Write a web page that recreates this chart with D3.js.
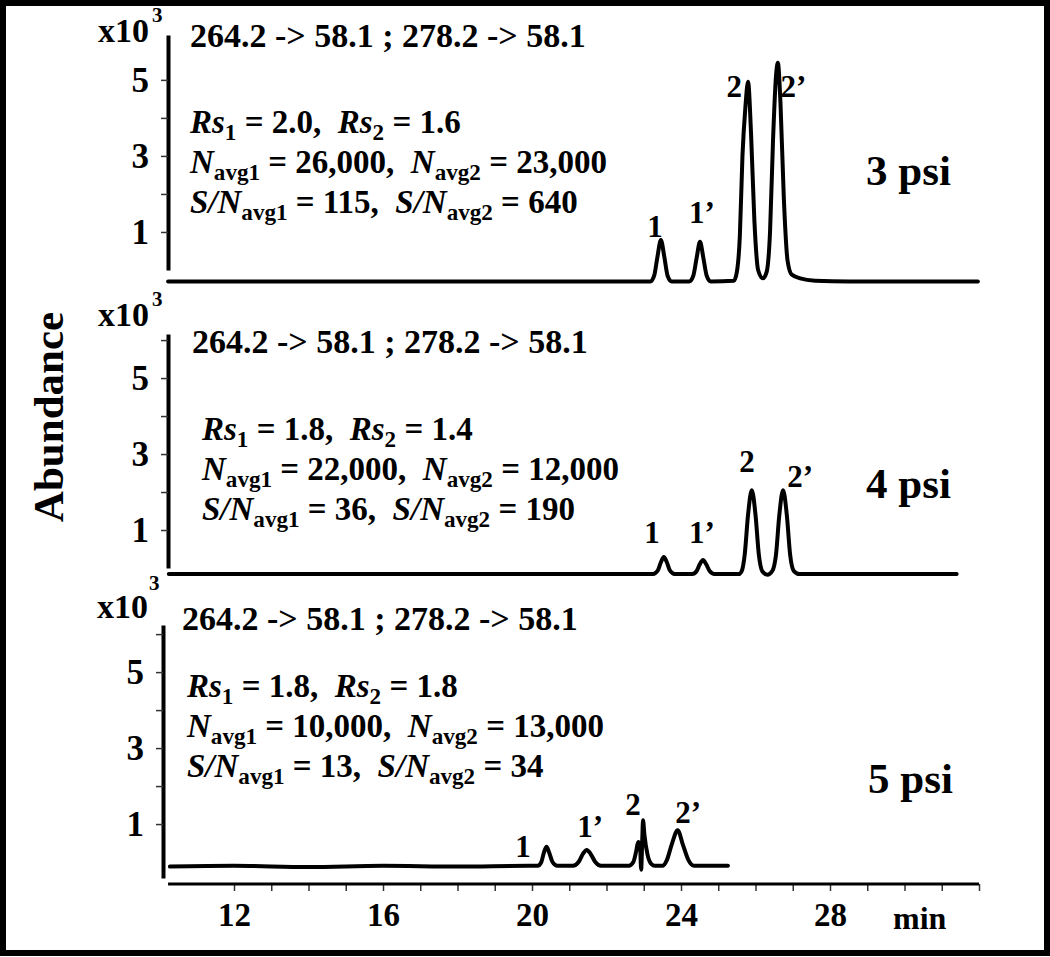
<!DOCTYPE html>
<html><head><meta charset="utf-8">
<script src="https://cdn.jsdelivr.net/npm/d3@7"></script>
<style>
html,body{margin:0;padding:0;background:#fff;}
svg text{font-family:"Liberation Serif","Times New Roman",serif;font-weight:bold;white-space:pre;}
</style></head>
<body>
<svg id="chart" width="1050" height="957"></svg>
<script>
// ---------- DATA ----------
const xTickValues = [12, 16, 20, 24, 28];
const xMinorTicks = [12,13,14,15,16,17,18,19,20,21,22,23,24,25,26,27,28,29,30,31,32];
const yTickValues = [1, 2, 3, 4, 5, 6];
const yTickLabels = [1, 3, 5];
const transitionText = "264.2 -> 58.1 ; 278.2 -> 58.1";
const psiLabels = ["3 psi", "4 psi", "5 psi"];
const rsValues = [["2.0", "1.6"], ["1.8", "1.4"], ["1.8", "1.8"]];
const nValues = [["26,000", "23,000"], ["22,000", "12,000"], ["10,000", "13,000"]];
const snValues = [["115", "640"], ["36", "190"], ["13", "34"]];

// traces: [time (min), abundance (x10^3)]
const trace3psi = [
  [10.23,-0.3],[18,-0.3],[23.18,-0.3],[23.28,-0.15],[23.37,0.36],[23.46,0.79],[23.55,0.36],[23.64,-0.15],[23.75,-0.3],
  [24.22,-0.3],[24.33,-0.15],[24.42,0.32],[24.51,0.74],[24.6,0.32],[24.69,-0.15],[24.8,-0.3],
  [25.42,-0.28],[25.5,-0.05],[25.58,0.9],[25.65,3.0],[25.73,4.3],[25.8,4.95],[25.88,3.6],[25.97,1.3],[26.07,0.0],[26.2,-0.22],
  [26.3,-0.05],[26.39,1.0],[26.47,3.4],[26.55,5.1],[26.6,5.45],[26.67,4.4],[26.76,1.9],[26.86,0.25],[26.97,-0.12],[27.2,-0.22],
  [27.6,-0.28],[28.5,-0.3],[31.97,-0.3]
];
const trace4psi = [
  [10.25,-0.16],[18,-0.16],[23.25,-0.16],[23.38,-0.06],[23.46,0.15],[23.54,0.29],[23.62,0.15],[23.7,-0.06],[23.83,-0.16],
  [24.3,-0.16],[24.42,-0.08],[24.5,0.09],[24.59,0.21],[24.68,0.09],[24.77,-0.08],[24.9,-0.16],
  [25.55,-0.16],[25.63,-0.08],[25.71,0.35],[25.8,1.4],[25.9,2.05],[26.0,1.4],[26.09,0.35],[26.18,-0.08],[26.32,-0.18],
  [26.45,-0.08],[26.55,0.35],[26.64,1.4],[26.74,2.05],[26.84,1.4],[26.93,0.35],[27.03,-0.08],[27.18,-0.16],
  [31.4,-0.16]
];
const trace5psi = [
  [10.28,-0.12],[12,-0.1],[14,-0.13],[16,-0.1],[18,-0.12],[19.9,-0.1],
  [20.15,-0.1],[20.25,0.0],[20.32,0.25],[20.39,0.4],[20.46,0.25],[20.55,0.0],[20.68,-0.1],
  [21.1,-0.1],[21.25,0.0],[21.37,0.22],[21.47,0.32],[21.57,0.22],[21.7,0.0],[21.85,-0.1],
  [22.6,-0.1],[22.72,0.0],[22.8,0.3],[22.85,0.53],[22.9,0.45],[22.93,-0.2],[22.96,0.6],[22.98,1.1],[23.02,0.7],[23.1,0.2],[23.2,-0.05],[23.3,-0.1],
  [23.5,-0.1],[23.62,0.05],[23.75,0.46],[23.91,0.84],[24.05,0.46],[24.2,0.05],[24.35,-0.1],[25.26,-0.1]
];
// peak labels: [text, time, abundance]
const peaks3psi = [["1",23.3,0.87],["1’",24.56,1.24],["2",25.43,4.55],["2’",27.02,4.55]];
const peaks4psi = [["1",23.22,0.66],["1’",24.56,0.66],["2",25.77,2.53],["2’",27.2,2.13]];
const peaks5psi = [["1",19.76,0.13],["1’",21.56,0.66],["2",22.71,1.24],["2’",24.19,1.03]];

// ---------- LAYOUT ----------
const svg = d3.select("#chart");
const x = d3.scaleLinear().domain([10, 32]).range([159.5, 979]);

const panels = [
  {trace: trace3psi, peaks: peaks3psi, yDomain:[0,6.18], yRange:[270,35], axisX:168, topTick:false,
   hdr:[190,47], lx:190, ly:[133,173,213], psi:[866,185], x10:[98,42], sup:[152,22]},
  {trace: trace4psi, peaks: peaks4psi, yDomain:[0,6.16], yRange:[568,334], axisX:168, topTick:true,
   hdr:[192,353], lx:202, ly:[440,480,520], psi:[866,498], x10:[98,326], sup:[152,306]},
  {trace: trace5psi, peaks: peaks5psi, yDomain:[-0.42,6.24], yRange:[878,625], axisX:163, topTick:true,
   hdr:[182,630], lx:187, ly:[697,737,777], psi:[868,793], x10:[97,618], sup:[149,590]}
];

function rich(g, px, py, segs, size) {
  const t = g.append("text").attr("x", px).attr("y", py).style("font-size", size + "px");
  let lowered = false;
  segs.forEach(s => {
    const sp = t.append("tspan").text(s.t);
    if (s.it) sp.style("font-style", "italic");
    if (s.sub) { sp.style("font-size", (size*0.7) + "px").attr("dy", lowered ? 0 : 7); lowered = true; }
    else if (lowered) { sp.attr("dy", -7); lowered = false; }
  });
  return t;
}

const line = d3.line().curve(d3.curveMonotoneX);

panels.forEach((p, i) => {
  const g = svg.append("g");
  const y = d3.scaleLinear().domain(p.yDomain).range(p.yRange);

  // y axis
  const ticks = p.topTick ? yTickValues : yTickValues.slice(0, 5);
  const ax = g.append("g").attr("transform", `translate(${p.axisX},0)`)
    .call(d3.axisLeft(y).tickValues(ticks).tickSize(7).tickSizeOuter(0).tickPadding(12)
      .tickFormat(d => yTickLabels.includes(d) ? d : ""));
  ax.select(".domain").attr("stroke", "#000").attr("stroke-width", 4);
  ax.selectAll(".tick line").attr("stroke", "#333").attr("stroke-width", 1.5);
  ax.selectAll(".tick text").style("font-size", "35px").attr("fill", "#000")
    .style("font-family", "Liberation Serif").style("font-weight", "bold");

  // trace
  g.append("path")
    .attr("d", line(p.trace.map(d => [x(d[0]), y(d[1])])))
    .attr("fill", "none").attr("stroke", "#000").attr("stroke-width", 4)
    .attr("stroke-linejoin", "round").attr("stroke-linecap", "round");

  // peak labels
  g.selectAll(".pk").data(p.peaks).join("text")
    .attr("x", d => x(d[1])).attr("y", d => y(d[2]))
    .attr("text-anchor", "middle").style("font-size", "31px").text(d => d[0]);

  // texts
  g.append("text").attr("x", p.x10[0]).attr("y", p.x10[1]).style("font-size", "34px").text("x10");
  g.append("text").attr("x", p.sup[0]).attr("y", p.sup[1]).style("font-size", "21px").text("3");
  g.append("text").attr("x", p.hdr[0]).attr("y", p.hdr[1]).style("font-size", "34px").text(transitionText);
  rich(g, p.lx, p.ly[0], [{t:"Rs",it:1},{t:"1",sub:1},{t:" = " + rsValues[i][0] + ",  "},{t:"Rs",it:1},{t:"2",sub:1},{t:" = " + rsValues[i][1]}], 33);
  rich(g, p.lx, p.ly[1], [{t:"N",it:1},{t:"avg1",sub:1},{t:" = " + nValues[i][0] + ",  "},{t:"N",it:1},{t:"avg2",sub:1},{t:" = " + nValues[i][1]}], 33);
  rich(g, p.lx, p.ly[2], [{t:"S/N",it:1},{t:"avg1",sub:1},{t:" = " + snValues[i][0] + ",  "},{t:"S/N",it:1},{t:"avg2",sub:1},{t:" = " + snValues[i][1]}], 33);
  g.append("text").attr("x", p.psi[0]).attr("y", p.psi[1]).style("font-size", "43px").text(psiLabels[i]);
});

// x axis
const xa = svg.append("g").attr("transform", "translate(0,884)")
  .call(d3.axisBottom(x).tickValues(xMinorTicks).tickSize(7).tickSizeOuter(0).tickPadding(12)
    .tickFormat(d => xTickValues.includes(d) ? d : ""));
xa.select(".domain").remove();
xa.append("line").attr("x1", x(10.23)).attr("x2", x(32)).attr("stroke", "#000").attr("stroke-width", 3);
xa.selectAll(".tick line").attr("stroke", "#333").attr("stroke-width", 1.5);
xa.selectAll(".tick text").style("font-size", "33px").attr("fill", "#000")
  .style("font-family", "Liberation Serif").style("font-weight", "bold");
svg.append("text").attr("x", 893).attr("y", 929).style("font-size", "32px").text("min");

// y title
svg.append("text").attr("transform", "translate(63,417) rotate(-90)")
  .attr("text-anchor", "middle").style("font-size", "43px").text("Abundance");

// frame
svg.append("rect").attr("x", 3).attr("y", 3).attr("width", 1044).attr("height", 950)
  .attr("fill", "none").attr("stroke", "#000").attr("stroke-width", 6);
</script>
</body></html>
